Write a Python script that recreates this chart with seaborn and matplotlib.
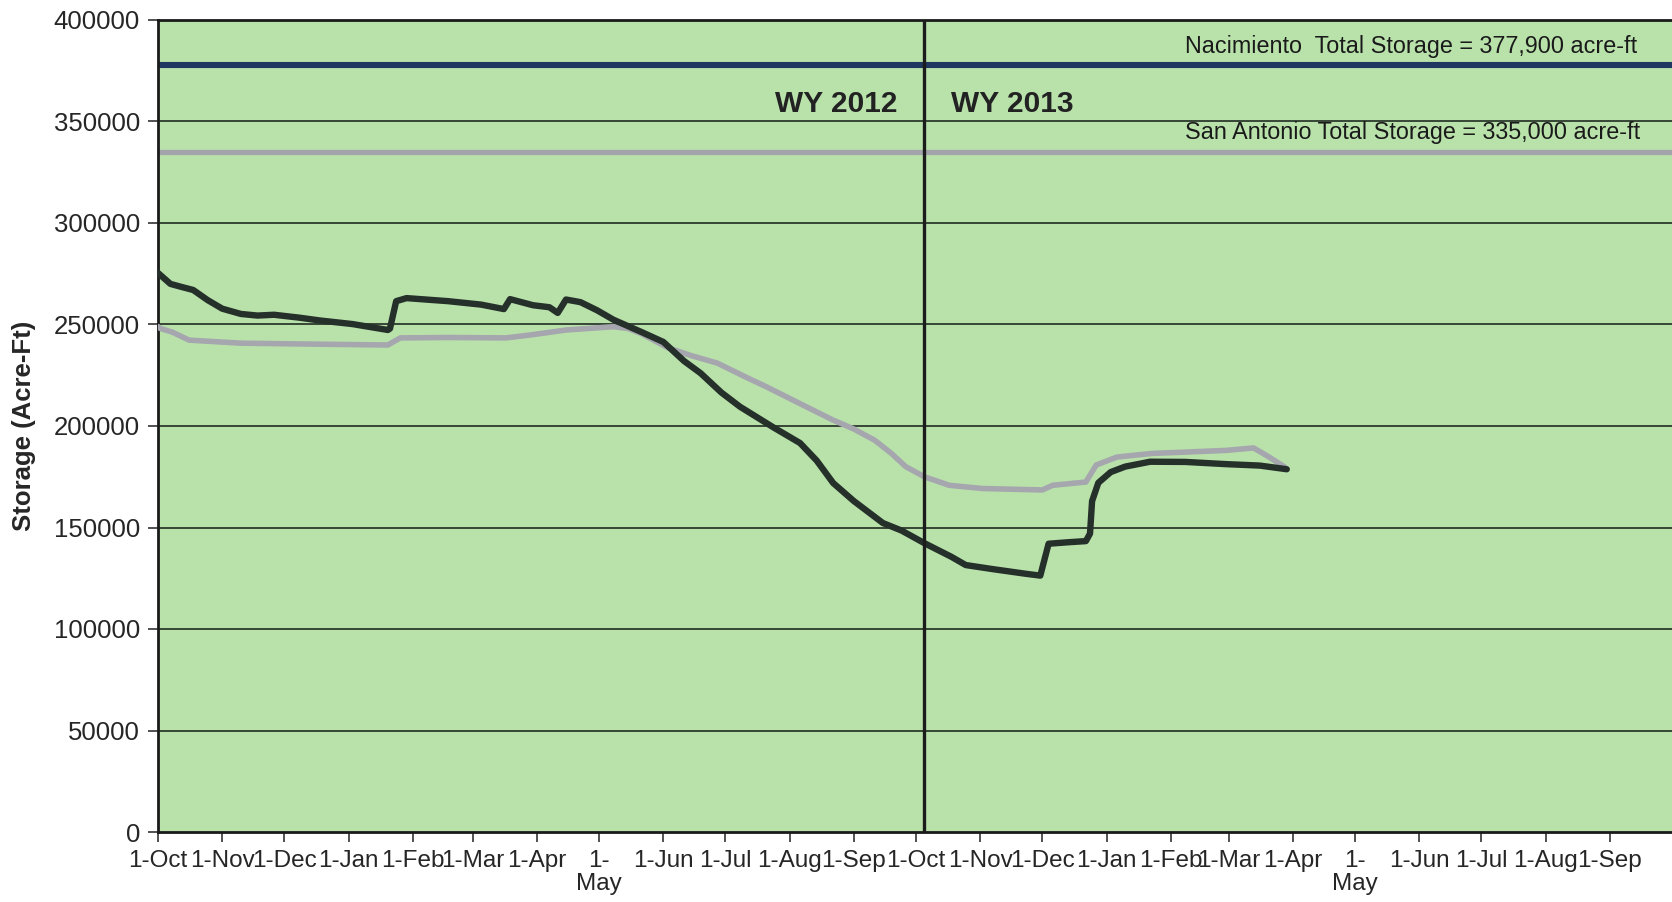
import pandas as pd
import seaborn as sns
import matplotlib.pyplot as plt

sns.set_style("white")
plt.rcParams['font.family'] = ['Liberation Sans', 'DejaVu Sans']

# Nacimiento storage (acre-ft)
naci_dates = ["2011-10-01", "2011-10-07", "2011-10-12", "2011-10-18", "2011-10-25",
              "2011-11-01", "2011-11-10", "2011-11-18", "2011-11-26", "2011-12-08",
              "2011-12-18", "2012-01-03", "2012-01-20", "2012-01-21", "2012-01-24",
              "2012-01-29", "2012-02-18", "2012-03-05", "2012-03-16", "2012-03-19",
              "2012-03-30", "2012-04-07", "2012-04-11", "2012-04-15", "2012-04-22",
              "2012-04-30", "2012-05-08", "2012-05-21", "2012-06-01", "2012-06-11",
              "2012-06-19", "2012-06-29", "2012-07-08", "2012-07-24", "2012-08-06",
              "2012-08-14", "2012-08-22", "2012-09-01", "2012-09-15", "2012-09-24",
              "2012-10-05", "2012-10-18", "2012-10-25", "2012-11-07", "2012-11-23",
              "2012-11-30", "2012-12-04", "2012-12-13", "2012-12-22", "2012-12-24",
              "2012-12-25", "2012-12-28", "2013-01-03", "2013-01-10", "2013-01-22",
              "2013-02-08", "2013-02-28", "2013-03-16", "2013-03-29"]
naci_storage = [275400, 270000, 268600, 267000, 262000,
                257800, 255200, 254400, 254800, 253400,
                252000, 250200, 247300, 248000, 261500,
                263000, 261500, 259800, 257600, 262500,
                259500, 258500, 255700, 262300, 261000,
                257000, 252300, 246500, 241400, 232000,
                226000, 216500, 209500, 199400, 191600,
                183000, 171900, 163000, 152200, 148500,
                142300, 135600, 131500, 129500, 127200,
                126300, 142000, 142700, 143300, 147000,
                163000, 172000, 177300, 180000, 182400,
                182300, 181200, 180500, 178700]

# San Antonio storage (acre-ft)
sa_dates = ["2011-10-01", "2011-10-02", "2011-10-08", "2011-10-16", "2011-11-10",
            "2011-12-18", "2012-01-20", "2012-01-26", "2012-02-18", "2012-03-17",
            "2012-03-30", "2012-04-15", "2012-05-08", "2012-05-15", "2012-05-21",
            "2012-06-03", "2012-06-15", "2012-06-27", "2012-07-11", "2012-07-21",
            "2012-08-06", "2012-08-22", "2012-09-01", "2012-09-11", "2012-09-19",
            "2012-09-26", "2012-10-05", "2012-10-17", "2012-11-02", "2012-12-01",
            "2012-12-06", "2012-12-22", "2012-12-27", "2013-01-06", "2013-01-23",
            "2013-02-07", "2013-02-28", "2013-03-13", "2013-03-20", "2013-03-28"]
sa_storage = [249000, 248100, 246200, 242300, 240800,
              240300, 239900, 243400, 243600, 243400,
              245000, 247300, 248900, 248000, 245700,
              238600, 234500, 231000, 224000, 219200,
              211000, 202900, 198500, 193000, 186600,
              180000, 175000, 170800, 169200, 168500,
              170800, 172400, 180800, 184700, 186500,
              187100, 188000, 189200, 185000, 179800]

naci_total = 377900
sa_total = 335000
month_labels = ["1-Oct", "1-Nov", "1-Dec", "1-Jan", "1-Feb", "1-Mar", "1-Apr",
                "1-\nMay", "1-Jun", "1-Jul", "1-Aug", "1-Sep"] * 2

naci = pd.DataFrame({"date": pd.to_datetime(naci_dates), "storage": naci_storage})
sa = pd.DataFrame({"date": pd.to_datetime(sa_dates), "storage": sa_storage})

fig = plt.figure(figsize=(16.72, 9.02), dpi=100)
ax = fig.add_axes([158 / 1672, 70 / 902, 1514 / 1672, 812 / 902])
ax.set_facecolor("#b9e2ab")

for y in range(50000, 400001, 50000):
    ax.axhline(y, color="#2c3a2c", lw=1.3, zorder=1)

ax.axhline(naci_total, color="#1e3660", lw=4.4, zorder=2)
ax.axhline(sa_total, color="#a3a3ab", lw=3.8, zorder=2)
ax.axvline(pd.Timestamp("2012-10-05"), color="#1c1c1c", lw=2.4, zorder=5)

sns.lineplot(data=sa, x="date", y="storage", color="#a6a6ae", lw=4.0,
             estimator=None, legend=False, ax=ax, zorder=3)
sns.lineplot(data=naci, x="date", y="storage", color="#26302a", lw=4.6,
             estimator=None, legend=False, ax=ax, zorder=4)

ax.set_xlim(pd.Timestamp("2011-10-01"), pd.Timestamp("2013-10-01"))
ax.set_ylim(0, 400000)
ticks = pd.date_range("2011-10-01", "2013-09-01", freq="MS")
ax.set_xticks(ticks)
ax.set_xticklabels(month_labels, fontsize=17.5, linespacing=1.05)
ax.set_yticks(range(0, 400001, 50000))
ax.set_yticklabels([str(v) for v in range(0, 400001, 50000)], fontsize=18.5)
ax.tick_params(axis="both", direction="out", length=7, width=1.2, color="#333333")
ax.tick_params(axis="x", bottom=True, pad=6)
ax.tick_params(axis="y", left=True, pad=6)

for side in ["left", "top", "bottom"]:
    ax.spines[side].set_color("#1a1a1a")
    ax.spines[side].set_linewidth(2)
ax.spines["right"].set_visible(False)

ax.set_xlabel("")
ax.set_ylabel("Storage (Acre-Ft)", fontsize=18.5, fontweight="bold")
ax.yaxis.set_label_coords(-0.0806, 0.5)

tr = ax.get_yaxis_transform()
ax.text(0.977, 386800, "Nacimiento  Total Storage = 377,900 acre-ft",
        transform=tr, ha="right", va="center", fontsize=16.8, color="#1a1a1a")
ax.text(0.979, 344400, "San Antonio Total Storage = 335,000 acre-ft",
        transform=tr, ha="right", va="center", fontsize=16.8, color="#1a1a1a")
ax.text(pd.Timestamp("2012-09-22"), 358500, "WY 2012", ha="right", va="center",
        fontsize=21.5, fontweight="bold", color="#222222")
ax.text(pd.Timestamp("2012-10-18"), 358500, "WY 2013", ha="left", va="center",
        fontsize=21.5, fontweight="bold", color="#222222")

fig.savefig("out.png", dpi=100)
